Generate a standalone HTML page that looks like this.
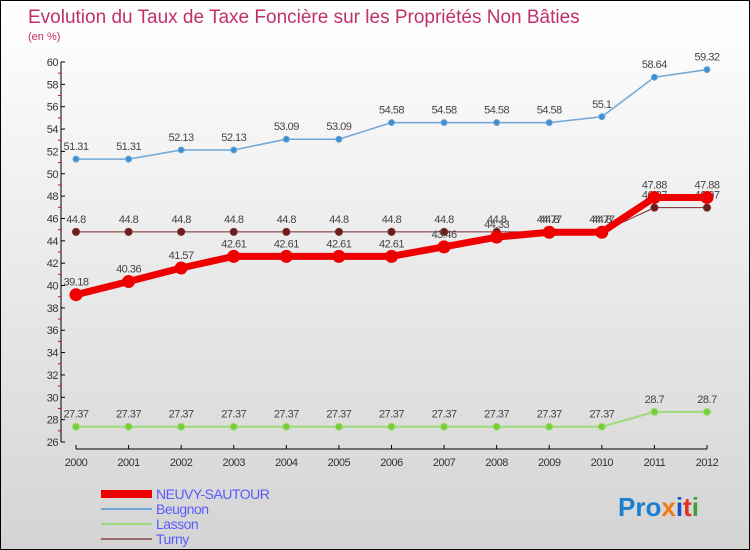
<!DOCTYPE html>
<html><head><meta charset="utf-8"><style>
body{margin:0;}
#c{width:750px;height:550px;position:relative;box-sizing:border-box;border:1px solid #000;background:linear-gradient(#fff,#d4d4d4);font-family:"Liberation Sans",sans-serif;overflow:hidden}
svg{position:absolute;left:0;top:0}
</style></head><body>
<div id="c">
<svg id="s" width="750" height="550">
<text x="27" y="22" font-size="19" fill="#c0306a">Evolution du Taux de Taxe Foncière sur les Propriétés Non Bâties</text>
<text x="27" y="39" font-size="11" fill="#c0306a">(en %)</text>
<text x="617" y="515" font-size="26" font-weight="bold"><tspan fill="#1a7fd0">Pro</tspan><tspan fill="#f07a10">x</tspan><tspan fill="#1a50c0">i</tspan><tspan fill="#e03020">t</tspan><tspan fill="#40a040">i</tspan></text>
</svg>
</div>
<script>
const years=["2000","2001","2002","2003","2004","2005","2006","2007","2008","2009","2010","2011","2012"];
const neuvy=[39.18,40.36,41.57,42.61,42.61,42.61,42.61,43.46,44.33,44.77,44.77,47.88,47.88];
const beugnon=[51.31,51.31,52.13,52.13,53.09,53.09,54.58,54.58,54.58,54.58,55.1,58.64,59.32];
const lasson=[27.37,27.37,27.37,27.37,27.37,27.37,27.37,27.37,27.37,27.37,27.37,28.7,28.7];
const turny=[44.8,44.8,44.8,44.8,44.8,44.8,44.8,44.8,44.8,44.8,44.8,46.97,46.97];
const yTicks=[26,28,30,32,34,36,38,40,42,44,46,48,50,52,54,56,58,60];
const s=document.getElementById('s');
const NS="http://www.w3.org/2000/svg";
const X=i=>75+i*(631/12);
const Y=v=>441-(v-26)*(380/34);
function el(t,a,p){const e=document.createElementNS(NS,t);for(const k in a)e.setAttribute(k,a[k]);(p||s).appendChild(e);return e;}
let ax=el('line',{x1:60,y1:Y(60),x2:60,y2:Y(26),stroke:'#000'});


let xa=el('line',{x1:X(0),y1:448,x2:X(12),y2:448,stroke:'#000'});


yTicks.forEach(v=>{
  el('line',{x1:60,y1:Y(v),x2:64,y2:Y(v),stroke:'#000'});
  if(v<60) el('line',{x1:57,y1:Y(v+1),x2:60,y2:Y(v+1),stroke:'#e00'});
  const t=el('text',{x:57,y:Y(v)+4,'font-size':11,fill:'#333','text-anchor':'end','letter-spacing':'-0.5'});
  t.textContent=v;
  
  
});
years.forEach((y,i)=>{
  el('line',{x1:X(i),y1:444,x2:X(i),y2:448,stroke:'#000'});
  const t=el('text',{x:X(i),y:465,'font-size':11,fill:'#333','text-anchor':'middle','letter-spacing':'-0.5'});
  t.textContent=y;
  
  
});
function series(name,data,color,w,r,mfill){
  const g=el('g',{});
  
  
  el('polyline',{points:data.map((v,i)=>X(i)+','+Y(v)).join(' '),fill:'none',stroke:color,'stroke-width':w,'stroke-linejoin':'round'},g);
  data.forEach((v,i)=>{
    const c=el('circle',{cx:X(i),cy:Y(v),r:r,fill:mfill,stroke:color,'stroke-width':1},g);
    
    
    const t=el('text',{x:X(i),y:Y(v)-9,'font-size':11,fill:'#444','text-anchor':'middle','letter-spacing':'-0.5'},g);
    t.textContent=v;
    
    
  });
}
series('beugnon',beugnon,'#6fa8d8',1.5,3,'#3d8fd0');
series('lasson',lasson,'#9ddb7a',2,3.5,'#7acc3a');
series('turny',turny,'#7a2a2a',1,3.5,'#6a1e1e');
series('neuvy',neuvy,'#ee0000',7,6,'#ee0000');
const leg=[['NEUVY-SAUTOUR','#ee0000',8],['Beugnon','#6fa8d8',2],['Lasson','#9ddb7a',2],['Turny','#9a6a6a',2]];
leg.forEach((l,i)=>{
  const y=493+i*15;
  const g=el('g',{});
  
  
  el('line',{x1:100,y1:y,x2:151,y2:y,stroke:l[1],'stroke-width':l[2]},g);
  const t=el('text',{x:155,y:y+5,'font-size':14,fill:'#5a5aff','letter-spacing':'-0.5'},g);
  t.textContent=l[0];
});
</script>
</body></html>
